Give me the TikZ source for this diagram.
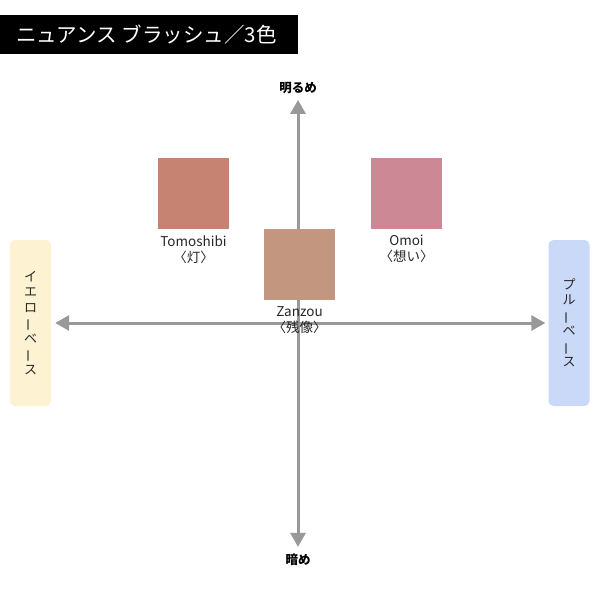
\documentclass[tikz,border=0pt]{standalone}
\usepackage{fontspec}
\setmainfont{Noto Sans CJK JP}
\usetikzlibrary{arrows.meta,positioning}
\definecolor{axisgray}{RGB}{153,153,153}
\definecolor{tomoshibi}{RGB}{199,131,114}
\definecolor{zanzou}{RGB}{195,150,128}
\definecolor{omoi}{RGB}{205,136,150}
\definecolor{yellowbase}{RGB}{253,243,210}
\definecolor{bluebase}{RGB}{202,217,247}
\newcommand{\tatebar}{\rotatebox[origin=c]{90}{ー}}

\begin{document}
\begin{tikzpicture}[x=1pt,y=-1pt,
  swatch/.style={minimum size=71pt, inner sep=0pt},
  swlabel/.style={font=\fontsize{13.5}{16}\selectfont, align=center, inner sep=0pt, text=black!85},
  basebox/.style={rounded corners=5pt, minimum width=41pt, minimum height=166pt, inner sep=0pt,
    font=\fontsize{13}{15.5}\selectfont, align=center, text=black!85},
  axislabel/.style={font=\fontsize{12.5}{14}\selectfont\bfseries, inner sep=0pt},
  axis/.style={draw=axisgray, line width=3pt, {Triangle[length=14pt,width=15pt]}-{Triangle[length=14pt,width=15pt]}}
]
\useasboundingbox (0,0) rectangle (600,600);
% title
\fill[black] (0,15) rectangle (298,54);
\node[text=white, anchor=west, inner sep=0pt, font=\fontsize{20.5}{22}\selectfont] (title) at (16,34.5) {ニュアンス ブラッシュ／3色};

% axis ends
\node[axislabel] (light) at (298,88) {明るめ};
\node[axislabel] (dark) at (298,560) {暗め};
\node[basebox, fill=yellowbase] (ybase) at (30.5,323) {イ\\エ\\ロ\\\tatebar\\ベ\\\tatebar\\ス};
\node[basebox, fill=bluebase] (bbase) at (569,323) {プ\\ル\\\tatebar\\ベ\\\tatebar\\ス};

\draw[axis, shorten <=6pt, shorten >=7pt] (light.south) -- (dark.north);
\draw[axis, shorten <=4pt, shorten >=3pt] (ybase.east) -- (bbase.west);

% swatches
\node[swatch, fill=tomoshibi] (tomo) at (193.5,193.5) {};
\node[swatch, fill=omoi] (omoi) at (406.5,193.5) {};
\node[swatch, fill=zanzou] (zan) at (299.5,264.5) {};

\node[swlabel, below=6pt of tomo] {Tomoshibi\\〈灯〉};
\node[swlabel, below=6pt of omoi] {Omoi\\〈想い〉};
\node[swlabel, below=6pt of zan] {Zanzou\\〈残像〉};
\end{tikzpicture}
\end{document}
